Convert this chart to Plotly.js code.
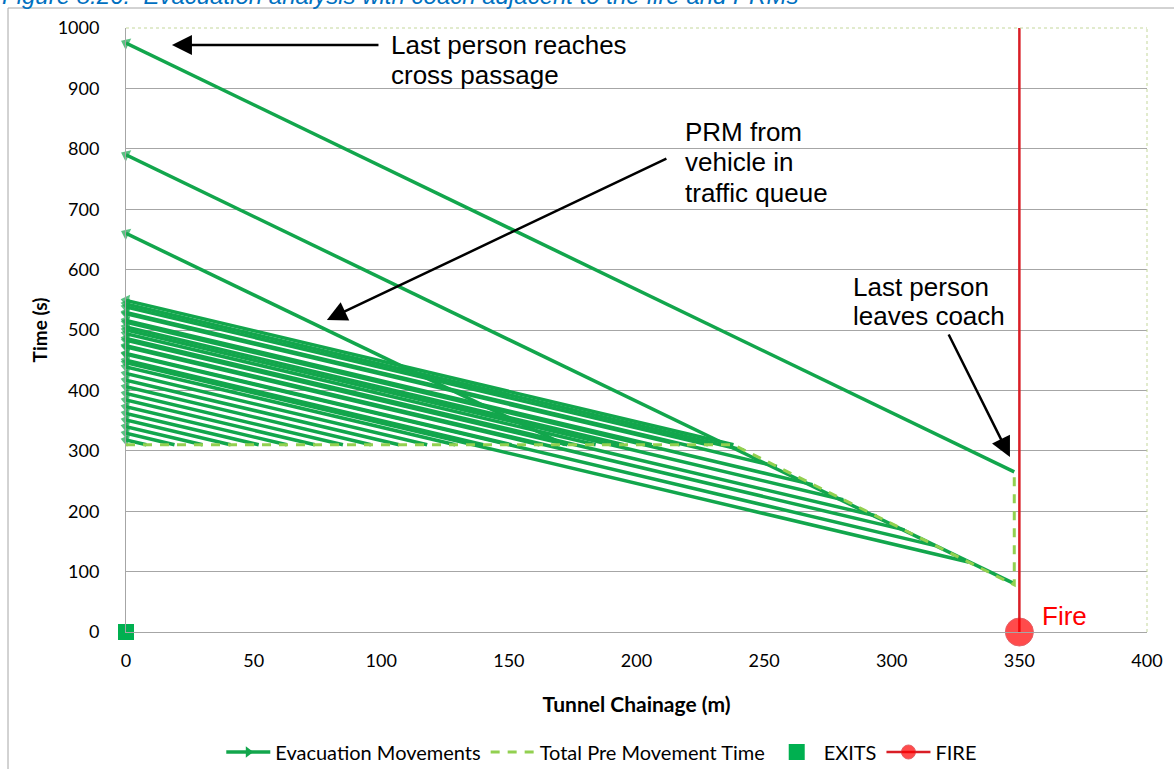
<!DOCTYPE html>
<html>
<head>
<meta charset="utf-8">
<script src="https://cdn.plot.ly/plotly-3.0.1.min.js"></script>
<style>
  html, body { margin: 0; padding: 0; background: #ffffff; }
  #chart { width: 1174px; height: 769px; }
</style>
</head>
<body>
<div id="chart"></div>
<script>
// ---------------- DATA ----------------
// Evacuation movements: start (chainage m, time s) -> arrival time at cross passage (chainage 0)
// Coach passengers and PRM (slow walkers)
const prmStartX = [348, 348, 172];
const prmStartY = [265, 80, 310];
const prmEndT   = [975, 790, 660];
// Vehicles in the traffic queue with the full pre-movement time
const queueStartX = [8, 19, 30, 41, 52, 63, 74, 85, 96, 107, 118, 129, 140, 151, 162, 173, 184, 195, 206, 217, 228, 238];
const queueStartY = [310, 310, 310, 310, 310, 310, 310, 310, 310, 310, 310, 310, 310, 310, 310, 310, 310, 310, 310, 310, 310, 310];
const queueEndT   = [318, 329, 340, 351, 362, 373, 384, 395, 406, 417, 428, 439, 450, 461, 472, 483, 494, 505, 516, 527, 538, 549];
// Vehicles closer to the fire (shorter pre-movement time)
const nearStartX = [242, 255, 269, 281, 294, 305, 317, 330];
const nearStartY = [301, 274, 244, 219, 192, 169, 143, 116];
const nearEndT   = [543, 529, 513, 500, 486, 474, 460, 446];
const crossPassageX = 0;

// Total pre-movement time
const preX = [0, 238, 348, 348];
const preY = [310, 310, 78, 265];

// Exits
const exitX = [0];
const exitY = [0];

// Fire
const fireX = [350, 350];
const fireY = [0, 1000];

// Axis ticks
const xTicks = [0, 50, 100, 150, 200, 250, 300, 350, 400];
const yTicks = [0, 100, 200, 300, 400, 500, 600, 700, 800, 900, 1000];

// ---------------- BUILD ----------------
const GREEN = '#12A64C';
const LIGHTGREEN = '#92D050';
const startX = prmStartX.concat(queueStartX, nearStartX);
const startY = prmStartY.concat(queueStartY, nearStartY);
const endT = prmEndT.concat(queueEndT, nearEndT);

const mx = [], my = [], msz = [];
for (let i = 0; i < startX.length; i++) {
  mx.push(startX[i], crossPassageX, null);
  my.push(startY[i], endT[i], null);
  msz.push(0, 11, 0);
}

const FONT = 'Lato, "Open Sans", sans-serif';
const ANN_FONT = '"Liberation Sans", Arial, sans-serif';

const traces = [
  {
    type: 'scatter', mode: 'lines+markers', x: mx, y: my,
    line: { color: GREEN, width: 3.5 },
    marker: { symbol: 'triangle-up', angleref: 'previous', size: msz, color: GREEN, line: { width: 0 } },
    showlegend: false, cliponaxis: false, hoverinfo: 'skip'
  },
  {
    type: 'scatter', mode: 'lines+markers', x: [null], y: [null],
    name: 'Evacuation Movements',
    line: { color: GREEN, width: 3.5 },
    marker: { symbol: 'triangle-right', size: 10, color: GREEN }
  },
  {
    type: 'scatter', mode: 'lines', x: preX, y: preY,
    name: 'Total Pre Movement Time',
    line: { color: LIGHTGREEN, width: 3, dash: '9px,8px' },
    cliponaxis: false
  },
  {
    type: 'scatter', mode: 'markers', x: exitX, y: exitY,
    name: 'EXITS',
    marker: { symbol: 'square', size: 16, color: '#00B050' },
    cliponaxis: false
  },
  {
    type: 'scatter', mode: 'lines+markers', x: fireX, y: fireY,
    name: 'FIRE',
    line: { color: '#D91E26', width: 2.5 },
    marker: { symbol: 'circle', size: [28, 0], color: '#FF0000' },
    cliponaxis: false
  }
];

const plotL = 126, plotR = 1147, plotT = 28, plotB = 632;
const pw = plotR - plotL, ph = plotB - plotT;
const px2paperX = p => (p - plotL) / pw;
const py2paperY = p => (plotB - p) / ph;

function txt(text, xpx, ypx, size, color) {
  return { xref: 'paper', yref: 'paper', x: px2paperX(xpx), y: py2paperY(ypx), xanchor: 'left', yanchor: 'middle',
    align: 'left', text: text, showarrow: false, font: { family: ANN_FONT, size: size, color: color || '#000' } };
}

const layout = {
  width: 1174, height: 769,
  margin: { l: plotL, r: 1174 - plotR, t: plotT, b: 769 - plotB, pad: 0, autoexpand: false },
  paper_bgcolor: '#ffffff', plot_bgcolor: '#ffffff',
  font: { family: FONT, size: 18, color: '#000000' },
  showlegend: true,
  legend: {
    orientation: 'h', x: 0.466, xanchor: 'center', y: py2paperY(752), yanchor: 'middle',
    font: { family: FONT, size: 20, color: '#000' }, traceorder: 'normal', itemwidth: 44
  },
  xaxis: {
    range: [0, 400], tickvals: xTicks, ticktext: xTicks.map(String), automargin: false,
    showgrid: false, zeroline: false,
    showline: true, linecolor: '#A6A6A6', linewidth: 1,
    ticks: '', ticklabelstandoff: 12,
    tickfont: { family: FONT, size: 18, color: '#000' },
    title: { text: '<b>Tunnel Chainage (m)</b>', font: { family: FONT, size: 21, color: '#000' }, standoff: 27 }
  },
  yaxis: {
    range: [0, 1000], tickvals: yTicks, ticktext: yTicks.map(String), automargin: false,
    showgrid: true, gridcolor: '#A6A6A6', gridwidth: 1,
    zeroline: true, zerolinecolor: '#A6A6A6', zerolinewidth: 1,
    showline: true, linecolor: '#A6A6A6', linewidth: 1,
    ticks: '', ticklabelstandoff: 22,
    tickfont: { family: FONT, size: 18, color: '#000' },
    title: { text: '<b>Time (s)</b>', font: { family: FONT, size: 19, color: '#000' }, standoff: 4 }
  },
  shapes: [
    { type: 'line', xref: 'paper', yref: 'paper', x0: px2paperX(8), x1: px2paperX(8), y0: py2paperY(8), y1: py2paperY(780), line: { color: '#A6A6A6', width: 1 } },
    { type: 'line', xref: 'paper', yref: 'paper', x0: px2paperX(8), x1: px2paperX(1180), y0: py2paperY(8), y1: py2paperY(8), line: { color: '#A6A6A6', width: 1 } },
    { type: 'line', xref: 'paper', yref: 'paper', x0: 0, x1: 1, y0: 1, y1: 1, line: { color: '#C4D79B', width: 1, dash: 'dot' } },
    { type: 'line', xref: 'paper', yref: 'paper', x0: 1, x1: 1, y0: 0, y1: 1, line: { color: '#C4D79B', width: 1, dash: 'dot' } }
  ],
  annotations: [
    { xref: 'paper', yref: 'paper', x: px2paperX(0), y: py2paperY(-5), xanchor: 'left', yanchor: 'middle',
      text: '<i>Figure 8.26:  Evacuation analysis with coach adjacent to the fire and PRMs</i>', showarrow: false,
      font: { family: ANN_FONT, size: 24, color: '#0070C0' } },
    { xref: 'x', yref: 'y', axref: 'x', ayref: 'y', x: 18, y: 972, ax: 99.5, ay: 972, text: '',
      showarrow: true, arrowhead: 2, arrowsize: 1.6, arrowwidth: 2.5, arrowcolor: '#000' },
    { xref: 'x', yref: 'y', axref: 'x', ayref: 'y', x: 78.7, y: 516.6, ax: 212.3, ay: 784.8, text: '',
      showarrow: true, arrowhead: 2, arrowsize: 1.6, arrowwidth: 2.5, arrowcolor: '#000' },
    { xref: 'x', yref: 'y', axref: 'x', ayref: 'y', x: 346.3, y: 289.7, ax: 322.0, ay: 495.0, text: '',
      showarrow: true, arrowhead: 2, arrowsize: 1.6, arrowwidth: 2.5, arrowcolor: '#000' },
    txt('Last person reaches', 389, 45, 26),
    txt('cross passage', 389, 75, 26),
    txt('PRM from', 683, 132, 26),
    txt('vehicle in', 683, 162, 26),
    txt('traffic queue', 683, 193, 26),
    txt('Last person', 851, 287, 26),
    txt('leaves coach', 851, 316, 26),
    { xref: 'x', yref: 'y', x: 358, y: 27, xanchor: 'left', yanchor: 'middle',
      text: 'Fire', showarrow: false, font: { family: ANN_FONT, size: 26, color: '#FF0000' } }
  ]
};

Plotly.newPlot('chart', traces, layout, { staticPlot: true, displayModeBar: false });
</script>
</body>
</html>
